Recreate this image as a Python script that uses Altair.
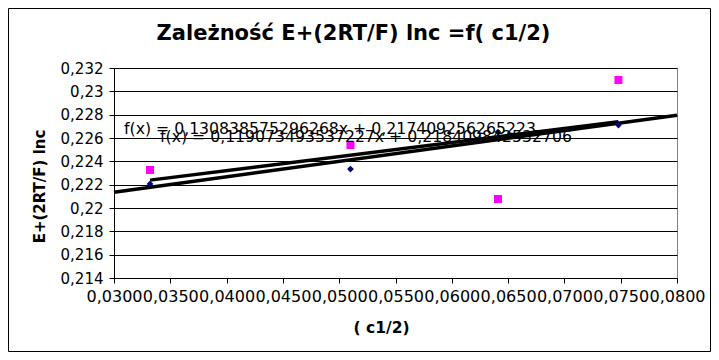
import altair as alt
import pandas as pd

# data
x_vals = [0.0332, 0.0510, 0.0641, 0.0748]
blue_y = [0.22206, 0.22334, 0.22651, 0.22711]
pink_y = [0.22326, 0.22540, 0.22077, 0.23097]
y_ticks = [0.214, 0.216, 0.218, 0.220, 0.222, 0.224, 0.226, 0.228, 0.230, 0.232]
x_ticks = [0.030, 0.035, 0.040, 0.045, 0.050, 0.055, 0.060, 0.065, 0.070, 0.075, 0.080]
title_text = "Zależność E+(2RT/F) lnc =f( c1/2)"
y_title = "E+(2RT/F) lnc"
x_title = "( c1/2)"
eq1 = "f(x) = 0,130838575296268x + 0,217409256265223"
eq2 = "f(x) = 0,119073493537227x + 0,218409842532706"

FONT = "DejaVu Sans"
W, H = 563, 210
TW, TH = 703, 344
PL, PT = 106, 60

df = pd.DataFrame({
    "x": x_vals * 2,
    "y": blue_y + pink_y,
    "s": ["blue"] * 4 + ["pink"] * 4,
})
base = alt.Chart(df)

xs = alt.X("x:Q", scale=alt.Scale(domain=[0.03, 0.08], nice=False, zero=False),
           axis=alt.Axis(values=x_ticks, title=None, grid=False,
                         labelExpr="replace(format(datum.value, '.4f'), '.', ',')",
                         labelFontSize=16, labelFont=FONT, labelColor="black",
                         labelOverlap=False, labelPadding=5, tickSize=5,
                         tickColor="black", domainColor="black", labelFlush=False))
ys = alt.Y("y:Q", scale=alt.Scale(domain=[0.214, 0.232], nice=False, zero=False),
           axis=alt.Axis(values=y_ticks, title=None, grid=True, gridColor="black",
                         gridOpacity=1, gridWidth=1,
                         labelExpr="replace(format(datum.value, '.3~f'), '.', ',')",
                         labelFontSize=15, labelFont=FONT, labelColor="black",
                         labelOverlap=False, labelPadding=6, tickSize=5,
                         tickColor="black", domainColor="black", labelFlush=False))

blue_fit = base.transform_filter("datum.s == 'blue'").transform_regression(
    "x", "y", extent=[0.03, 0.08]
).mark_line(color="black", strokeWidth=3.5).encode(x=xs, y=ys)
pink_fit = base.transform_filter("datum.s == 'pink'").transform_regression(
    "x", "y"
).mark_line(color="black", strokeWidth=3.5).encode(x=xs, y=ys)

blue_pts = base.transform_filter("datum.s == 'blue'").mark_point(
    shape="diamond", filled=True, color="#000080", size=45, opacity=1
).encode(x=xs, y=ys)
pink_pts = base.transform_filter("datum.s == 'pink'").mark_point(
    shape="square", filled=True, color="#FF00FF", size=64, opacity=1
).encode(x=xs, y=ys)

def label(text, x, y, size, bold=False, angle=0, align="center"):
    return alt.Chart(pd.DataFrame({"t": [text]})).mark_text(
        font=FONT, fontSize=size, fontWeight="bold" if bold else "normal",
        color="black", angle=angle, align=align, baseline="middle"
    ).encode(text="t:N", x=alt.value(x), y=alt.value(y))

border = alt.Chart(pd.DataFrame({"a": [0]})).mark_rect(
    fill=None, stroke="black", strokeWidth=1
).encode(x=alt.value(-PL + 0.5), y=alt.value(-PT + 0.5),
         x2=alt.value(TW - PL - 0.5), y2=alt.value(TH - PT - 0.5))

chart = alt.layer(
    blue_fit, pink_fit, blue_pts, pink_pts,
    label(eq1, 10, 61, 15.7, align="left"),
    label(eq2, 46, 69, 15.7, align="left"),
    label(title_text, 239.5, -34, 21, bold=True),
    label(y_title, -74, 118.5, 15, bold=True, angle=270),
    label(x_title, 267.5, 260, 15.5, bold=True),
    border,
).properties(
    width=W, height=H,
    autosize=alt.AutoSizeParams(type="none"),
    padding={"left": PL, "top": PT, "right": TW - PL - W, "bottom": TH - PT - H},
    background="white",
).configure_view(stroke="#808080", strokeWidth=1)

chart.save("out.html", embed_options={"renderer": "svg", "actions": False})
